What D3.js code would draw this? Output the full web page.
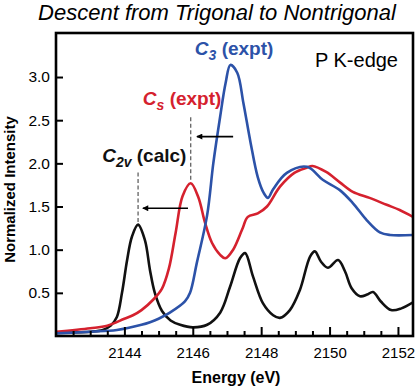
<!DOCTYPE html>
<html>
<head>
<meta charset="utf-8">
<script src="https://cdn.jsdelivr.net/npm/d3@7"></script>
<style>
  body { margin: 0; background: #fff; }
  text { font-family: "Liberation Sans", Arial, sans-serif; }
</style>
</head>
<body>
<script>
// C2v (calc) spectrum
const c2vEnergy = [2142.0, 2143.0, 2143.37, 2143.6, 2143.78, 2143.93, 2144.08, 2144.22, 2144.4, 2144.6, 2144.75, 2144.89, 2145.1, 2145.35, 2145.63, 2146.0, 2146.42, 2146.8, 2147.09, 2147.38, 2147.53, 2147.76, 2148.05, 2148.35, 2148.55, 2148.84, 2149.13, 2149.43, 2149.57, 2149.75, 2149.95, 2150.25, 2150.45, 2150.65, 2150.89, 2151.1, 2151.27, 2151.5, 2151.8, 2152.1, 2152.44];
const c2vIntensity = [0.04, 0.05, 0.07, 0.12, 0.22, 0.5, 0.88, 1.15, 1.29, 1.11, 0.76, 0.5, 0.29, 0.18, 0.13, 0.1, 0.13, 0.27, 0.57, 0.9, 0.96, 0.69, 0.38, 0.24, 0.21, 0.3, 0.53, 0.92, 0.98, 0.86, 0.79, 0.88, 0.75, 0.55, 0.46, 0.48, 0.51, 0.4, 0.3, 0.32, 0.39];

// Cs (expt) spectrum
const csEnergy = [2142.0, 2143.0, 2143.5, 2144.0, 2144.25, 2144.5, 2144.84, 2145.1, 2145.3, 2145.5, 2145.7, 2145.94, 2146.16, 2146.36, 2146.56, 2146.8, 2146.95, 2147.18, 2147.44, 2147.61, 2147.9, 2148.17, 2148.55, 2148.97, 2149.33, 2149.5, 2149.9, 2150.3, 2150.68, 2151.17, 2151.67, 2152.05, 2152.44];
const csIntensity = [0.05, 0.09, 0.12, 0.2, 0.24, 0.3, 0.42, 0.55, 0.78, 1.2, 1.62, 1.77, 1.61, 1.31, 1.08, 0.94, 0.9, 1.0, 1.23, 1.38, 1.42, 1.5, 1.73, 1.89, 1.95, 1.97, 1.9, 1.78, 1.67, 1.6, 1.52, 1.46, 1.38];

// C3 (expt) spectrum
const c3Energy = [2142.0, 2143.0, 2143.78, 2144.5, 2144.75, 2145.0, 2145.33, 2145.77, 2145.92, 2146.12, 2146.42, 2146.6, 2146.8, 2146.96, 2147.1, 2147.3, 2147.48, 2147.69, 2147.9, 2148.07, 2148.2, 2148.35, 2148.75, 2149.34, 2149.8, 2150.3, 2150.68, 2151.09, 2151.47, 2151.77, 2152.44];
const c3Intensity = [0.03, 0.05, 0.07, 0.13, 0.16, 0.2, 0.27, 0.4, 0.5, 0.85, 1.4, 2.0, 2.54, 2.93, 3.14, 3.05, 2.7, 2.24, 1.84, 1.66, 1.6, 1.7, 1.89, 1.96, 1.81, 1.69, 1.54, 1.34, 1.2, 1.17, 1.17];

const yTicks = [0.5, 1.0, 1.5, 2.0, 2.5, 3.0];
const xMajorTicks = [2144, 2146, 2148, 2150, 2152];

// peak shift annotations: dashed marker lines and arrows
const peakMarks = [[2144.4, 1.32, 1.92], [2145.94, 1.81, 2.56]];
const shiftArrows = [[2145.86, 2144.54, 1.48], [2147.18, 2146.12, 2.31]];

const W = 420, H = 388;
const margin = {top: 33, right: 7, bottom: 52, left: 56};
const width = W - margin.left - margin.right;
const height = H - margin.top - margin.bottom;

const svg = d3.select("body").append("svg")
    .attr("width", W)
    .attr("height", H);

svg.append("defs").append("marker")
    .attr("id", "head")
    .attr("viewBox", "0 0 10 10")
    .attr("refX", 9).attr("refY", 5)
    .attr("markerWidth", 7).attr("markerHeight", 6)
    .attr("markerUnits", "userSpaceOnUse")
    .attr("orient", "auto")
    .append("path")
    .attr("d", "M0,0 L10,5 L0,10 Z")
    .attr("fill", "#000");

svg.append("text")
    .attr("x", 217).attr("y", 20)
    .attr("text-anchor", "middle")
    .attr("font-size", "22px")
    .attr("font-style", "italic")
    .text("Descent from Trigonal to Nontrigonal");

const g = svg.append("g")
    .attr("transform", `translate(${margin.left},${margin.top})`);

const x = d3.scaleLinear().domain([2142, 2152.44]).range([0, width]);
const y = d3.scaleLinear().domain([0, 3.51]).range([height, 0]);

const line = d3.line()
    .x(d => x(d[0]))
    .y(d => y(d[1]))
    .curve(d3.curveCatmullRom.alpha(0.5));

const series = [
    {e: c2vEnergy, v: c2vIntensity, color: "#111"},
    {e: csEnergy, v: csIntensity, color: "#d5212e"},
    {e: c3Energy, v: c3Intensity, color: "#2c52a8"}
];

g.append("clipPath").attr("id", "clip")
    .append("rect").attr("width", width).attr("height", height);

g.append("g").attr("clip-path", "url(#clip)")
    .selectAll("path")
    .data(series)
    .enter()
    .append("path")
    .attr("d", s => line(d3.zip(s.e, s.v)))
    .attr("fill", "none")
    .attr("stroke", s => s.color)
    .attr("stroke-width", 2.6);

// axes, ticks pointing in
const minor = d3.range(2142.5, 2152.3, 0.5).filter(t => t % 2 !== 0);
g.append("g")
    .attr("transform", `translate(0,${height})`)
    .call(d3.axisBottom(x).tickValues(minor).tickSize(-5).tickFormat(""))
    .call(a => a.select(".domain").remove())
    .selectAll("line").attr("stroke-width", 2);

g.append("g")
    .attr("transform", `translate(0,${height})`)
    .call(d3.axisBottom(x).tickValues(xMajorTicks).tickSize(-9).tickPadding(11).tickFormat(d3.format("d")))
    .call(a => a.select(".domain").remove())
    .call(a => a.selectAll("line").attr("stroke-width", 2))
    .selectAll("text")
    .attr("font-size", "15px")
    .attr("font-family", "Liberation Sans, Arial, sans-serif")
    .attr("fill", "#000");

g.append("g")
    .call(d3.axisLeft(y).tickValues(yTicks).tickSize(-7).tickPadding(6).tickFormat(d3.format(".1f")))
    .call(a => a.select(".domain").remove())
    .call(a => a.selectAll("line").attr("stroke-width", 2))
    .selectAll("text")
    .attr("font-size", "15.5px")
    .attr("font-family", "Liberation Sans, Arial, sans-serif")
    .attr("fill", "#000");

g.append("rect")
    .attr("width", width).attr("height", height)
    .attr("fill", "none")
    .attr("stroke", "#000")
    .attr("stroke-width", 2.6);

// annotations
g.selectAll(".mark")
    .data(peakMarks)
    .enter()
    .append("line")
    .attr("x1", d => x(d[0])).attr("x2", d => x(d[0]))
    .attr("y1", d => y(d[1])).attr("y2", d => y(d[2]))
    .attr("stroke", "#555")
    .attr("stroke-width", 1.2)
    .attr("stroke-dasharray", "4,2.5");

g.selectAll(".arrow")
    .data(shiftArrows)
    .enter()
    .append("line")
    .attr("x1", d => x(d[0])).attr("x2", d => x(d[1]))
    .attr("y1", d => y(d[2])).attr("y2", d => y(d[2]))
    .attr("stroke", "#000")
    .attr("stroke-width", 1.6)
    .attr("marker-end", "url(#head)");

function label(e, v, sym, sub, rest, color) {
    const t = g.append("text")
        .attr("x", x(e)).attr("y", y(v))
        .attr("font-size", "19px")
        .attr("font-weight", "bold")
        .attr("fill", color);
    t.append("tspan").attr("font-style", "italic").text(sym);
    t.append("tspan").attr("font-style", "italic").attr("font-size", "14px").attr("dy", 5).text(sub);
    t.append("tspan").attr("dy", -5).text(" " + rest);
}
label(2143.35, 2.02, "C", "2v", "(calc)", "#111");
label(2144.54, 2.68, "C", "s", "(expt)", "#d5212e");
label(2146.06, 3.26, "C", "3", "(expt)", "#2c52a8");

g.append("text")
    .attr("x", 342).attr("y", 34)
    .attr("text-anchor", "end")
    .attr("font-size", "20px")
    .text("P K-edge");

svg.append("text")
    .attr("x", 236).attr("y", 383)
    .attr("text-anchor", "middle")
    .attr("font-size", "16px")
    .attr("font-weight", "bold")
    .text("Energy (eV)");

svg.append("text")
    .attr("transform", `translate(15,${margin.top + height / 2 + 5}) rotate(-90)`)
    .attr("text-anchor", "middle")
    .attr("font-size", "15px")
    .attr("font-weight", "bold")
    .text("Normalized Intensity");
</script>
</body>
</html>
